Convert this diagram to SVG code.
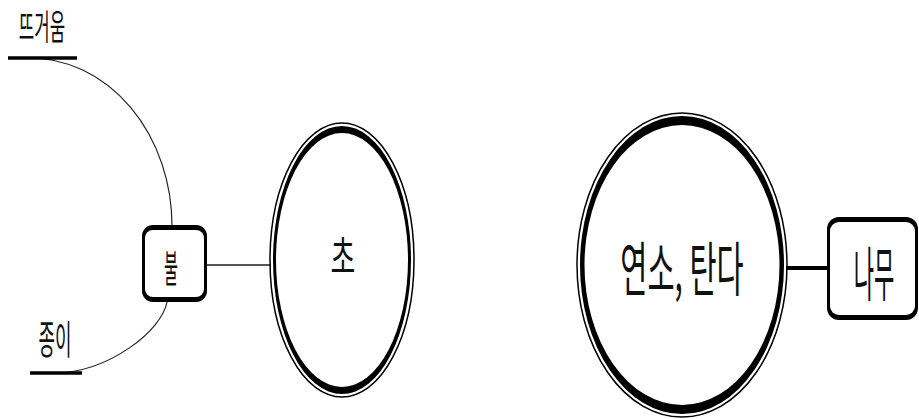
<svg xmlns="http://www.w3.org/2000/svg" width="919" height="419" viewBox="0 0 919 419">
<style>
  .t { font-family: "Noto Sans CJK KR", "Noto Sans", sans-serif; fill: #111; text-anchor: middle; dominant-baseline: central; }
  .thin { fill: none; stroke: #222; stroke-width: 1.2; }
  .ul { stroke: #000; stroke-width: 3.5; stroke-linecap: butt; }
</style>
<rect width="919" height="419" fill="#fff"/>
<g id="connectors">
  <path class="thin" d="M 30 58 A 142 168 0 0 1 172 226"/>
  <path class="thin" d="M 167 302 C 162 330, 110 372, 55 373"/>
  <line x1="207" y1="265" x2="271" y2="265" stroke="#555" stroke-width="2"/>
  <line x1="786" y1="268" x2="828" y2="268" stroke="#000" stroke-width="4"/>
</g>
<g id="label-hot">
  <line class="ul" x1="8" y1="58" x2="77" y2="58"/>
  <text class="t" transform="translate(42 25) scale(0.48 1)" font-size="35">뜨거움</text>
</g>
<g id="label-paper">
  <line class="ul" x1="30" y1="373" x2="82" y2="373"/>
  <text class="t" transform="translate(55 337) scale(0.45 1)" font-size="40">종이</text>
</g>
<g id="node-fire">
  <rect x="142" y="225" width="65" height="77" rx="11" fill="#000"/>
  <rect x="145" y="230" width="59" height="67" rx="8" fill="#fff"/>
  <text class="t" transform="translate(171 265) scale(0.4 1)" font-size="38">불</text>
</g>
<g id="node-candle">
  <ellipse cx="342" cy="260" rx="72" ry="137" fill="none" stroke="#000" stroke-width="1.5"/>
  <ellipse cx="342" cy="260" rx="69" ry="134" fill="#000"/>
  <ellipse cx="342" cy="260" rx="66" ry="127" fill="#fff"/>
  <text class="t" transform="translate(343 255) scale(0.6 1)" font-size="45">초</text>
</g>
<g id="node-burn">
  <ellipse cx="682" cy="265" rx="105" ry="152" fill="none" stroke="#000" stroke-width="1.5"/>
  <ellipse cx="682" cy="265" rx="102" ry="149" fill="#000"/>
  <ellipse cx="682" cy="265" rx="97.5" ry="140" fill="#fff"/>
  <text class="t" transform="translate(682 265) scale(0.5 1)" font-size="59">연소, 탄다</text>
</g>
<g id="node-wood">
  <rect x="827" y="217" width="91" height="103" rx="12" fill="#000"/>
  <rect x="830" y="222" width="85" height="93" rx="9" fill="#fff"/>
  <text class="t" transform="translate(874 270) scale(0.375 1)" font-size="59">나무</text>
</g>
</svg>
